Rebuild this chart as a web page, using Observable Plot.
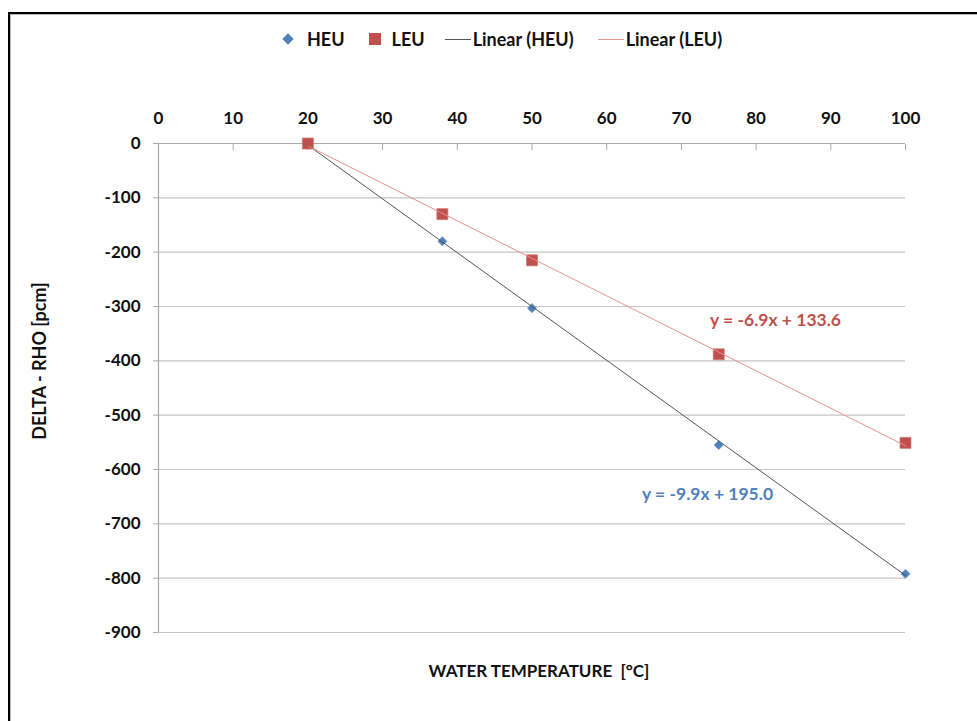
<!DOCTYPE html>
<html>
<head>
<meta charset="utf-8">
<script src="https://cdn.jsdelivr.net/npm/d3@7"></script>
<script src="https://cdn.jsdelivr.net/npm/@observablehq/plot@0.6"></script>
<style>
  html, body { margin: 0; overflow: hidden; background: #fff; font-family: Lato, "Open Sans", sans-serif; }
  #frame {
    position: absolute; left: 8px; top: 12px; width: 990px; height: 720px;
    border-left: 2px solid #000; border-top: 2px solid #000; background: #fff;
  }
  #frame::before {
    content: ""; position: absolute; left: 0; top: 0; width: 100%; height: 100%;
    border-left: 1px solid #b8b8b8; border-top: 1px solid #b8b8b8; pointer-events: none;
  }
  #legend {
    width: 900px; height: 50px; display: flex; align-items: center; overflow: hidden;
    padding-left: 274px; box-sizing: border-box;
    font-weight: 700; font-size: 18px; color: #111;
  }
  #legend .item { display: flex; align-items: center; }
  .diamond { width: 8px; height: 8px; background: #4F81BD; transform: rotate(45deg); margin-right: 15px; }
  .square { width: 12px; height: 12px; background: #C0504D; margin-right: 11px; }
  .line { width: 26px; height: 0; margin-right: 2px; }
</style>
</head>
<body>
<div id="frame">
  <div id="legend"></div>
  <div id="chart"></div>
</div>
<script>
// Reactivity change versus water temperature for the two fuel types
const temperatures = [20, 38, 50, 75, 100];
const heuValues = [0, -180, -303, -555, -792];
const leuValues = [0, -130, -215, -388, -551];

const seriesNames = ["HEU", "LEU"];
const markerColors = ["#4F81BD", "#C0504D"];
const trendColors = ["#555555", "#E8918E"];

// Linear trendline coefficients (slope, intercept)
const trendSlopes = [-9.9, -6.9];
const trendIntercepts = [195.0, 133.6];

const xTicks = [0, 10, 20, 30, 40, 50, 60, 70, 80, 90, 100];
const yTicks = [0, -100, -200, -300, -400, -500, -600, -700, -800, -900];

const xLabel = "WATER TEMPERATURE  [\u00B0C]";
const yLabel = "DELTA - RHO [pcm]";

const points = [
  ...temperatures.map((t, i) => ({series: "HEU", x: t, y: heuValues[i]})),
  ...temperatures.map((t, i) => ({series: "LEU", x: t, y: leuValues[i]}))
];

const tMin = d3.min(temperatures), tMax = d3.max(temperatures);
const trends = seriesNames.map((name, i) => ({
  name,
  slope: trendSlopes[i],
  intercept: trendIntercepts[i],
  color: trendColors[i],
  pts: [tMin, tMax].map(x => ({x, y: trendSlopes[i] * x + trendIntercepts[i]}))
}));
const eqText = (t) => `y = ${t.slope.toFixed(1)}x + ${t.intercept.toFixed(1)}`;

// Legend
const legend = document.getElementById("legend");
legend.innerHTML = `
  <span class="item"><span class="diamond"></span>${seriesNames[0]}</span>
  <span class="item" style="margin-left:24px"><span class="square"></span>${seriesNames[1]}</span>
  <span class="item" style="margin-left:20px"><span class="line" style="border-top:1px solid ${trendColors[0]}"></span>Linear (${seriesNames[0]})</span>
  <span class="item" style="margin-left:24px"><span class="line" style="border-top:1px solid ${trendColors[1]}"></span>Linear (${seriesNames[1]})</span>
`;

const gridColor = "#c4c4c4";
const axisColor = "#a8a8a8";
const fontFamily = "Lato, 'Open Sans', sans-serif";
const plainNumber = d => String(d);

const chart = Plot.plot({
  width: 967,
  height: 650,
  marginLeft: 148,
  marginRight: 72,
  marginTop: 79,
  marginBottom: 82,
  style: {fontFamily, fontSize: "17px", fontWeight: 700, color: "#111", background: "#fff"},
  x: {domain: [0, 100], ticks: xTicks},
  y: {domain: [-900, 0], ticks: yTicks},
  marks: [
    Plot.gridY(yTicks, {stroke: gridColor, strokeOpacity: 1, strokeWidth: 1.2}),
    Plot.ruleX([0], {stroke: axisColor, strokeWidth: 1.2}),
    Plot.ruleY([0], {stroke: axisColor, strokeWidth: 1.2}),
    Plot.axisX(xTicks, {anchor: "top", tickSize: -6, tickPadding: 26, tickFormat: plainNumber, stroke: axisColor, fill: "#111", label: null}),
    Plot.axisY(yTicks, {anchor: "left", tickSize: 5, tickPadding: 13, tickFormat: plainNumber, stroke: axisColor, fill: "#111", label: null}),
    // data markers
    Plot.dot(points.filter(d => d.series === "HEU"), {
      x: "x", y: "y", symbol: "diamond2", r: 4.1, fill: markerColors[0], stroke: "#6f97c9", strokeWidth: 0.8
    }),
    Plot.dot(points.filter(d => d.series === "LEU"), {
      x: "x", y: "y", symbol: "square", r: 6.2, fill: markerColors[1], stroke: "#d07a77", strokeWidth: 0.8
    }),
    // linear trendlines
    ...trends.map(t => Plot.line(t.pts, {x: "x", y: "y", stroke: t.color, strokeWidth: 1})),
    // trendline equations
    Plot.text([trends[1]], {x: 82.6, y: -326, text: eqText, fill: markerColors[1], fontSize: 17.5, fontWeight: 700}),
    Plot.text([trends[0]], {x: 73.5, y: -646, text: eqText, fill: markerColors[0], fontSize: 17.5, fontWeight: 700}),
    // axis titles
    Plot.text([xLabel], {frameAnchor: "bottom", dy: 44, dx: 7, text: d => d, fill: "#111", fontSize: 17, fontWeight: 700}),
    Plot.text([yLabel], {frameAnchor: "left", textAnchor: "middle", rotate: -90, dx: -118, dy: -27, text: d => d, fill: "#111", fontSize: 18, fontWeight: 700})
  ]
});
document.getElementById("chart").appendChild(chart);
</script>
</body>
</html>
